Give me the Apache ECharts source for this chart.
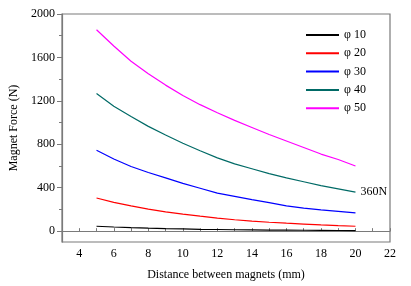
<!DOCTYPE html>
<html>
<head>
<meta charset="utf-8">
<script src="https://cdn.jsdelivr.net/npm/echarts@6/dist/echarts.min.js"></script>
<style>
  html, body { margin: 0; padding: 0; background: #fff; }
  #chart { width: 411px; height: 286px; }
</style>
</head>
<body>
<div id="chart"></div>
<script>
// distance between magnets (mm)
const distances = [5, 6, 7, 8, 9, 10, 11, 12, 13, 14, 15, 16, 17, 18, 19, 20];

// magnet force (N) for each diameter
const phi10 = [45, 38, 32, 27, 23, 20, 17, 15, 13, 11, 10, 9, 8, 7, 6, 5];
const phi20 = [305, 265, 232, 203, 178, 157, 138, 120, 105, 93, 82, 73, 65, 57, 50, 45];
const phi30 = [745, 665, 595, 540, 490, 440, 395, 350, 320, 290, 262, 232, 212, 195, 182, 168];
const phi40 = [1267, 1150, 1055, 965, 885, 810, 740, 675, 620, 575, 530, 490, 455, 420, 390, 360];
const phi50 = [1855, 1705, 1565, 1450, 1345, 1250, 1165, 1090, 1020, 955, 890, 830, 770, 710, 660, 600];

const seriesNames = ["φ 10", "φ 20", "φ 30", "φ 40", "φ 50"];
const seriesValues = [phi10, phi20, phi30, phi40, phi50];
const seriesColors = ["#000000", "#ff0000", "#0000ff", "#006a66", "#ff00ff"];

const xLabelValues = [4, 6, 8, 10, 12, 14, 16, 18, 20, 22];
const xTickValues = [4, 5, 6, 7, 8, 9, 10, 11, 12, 13, 14, 15, 16, 17, 18, 19, 20, 21, 22];
const yLabelValues = [0, 400, 800, 1200, 1600, 2000];
const yMinorValues = [200, 600, 1000, 1400, 1800];

const annotation = "360N";

const font = "Liberation Serif";
const axisColor = "#7a7a7a";

const chart = echarts.init(document.getElementById("chart"));

const series = seriesValues.map((vals, i) => ({
    name: seriesNames[i],
    type: "line",
    showSymbol: false,
    symbol: "none",
    color: seriesColors[i],
    lineStyle: { width: 1.2, color: seriesColors[i] },
    data: vals.map((v, j) => [distances[j], v]),
    // label the end of the φ 40 curve
    endLabel: i === 3 ? {
        show: true,
        distance: 5,
        formatter: annotation,
        fontFamily: font,
        fontSize: 12,
        color: "#000",
    } : { show: false },
    animation: false,
}));

const option = {
    animation: false,
    grid: {
        left: 59,
        right: 21,
        top: 14,
        bottom: 37,
        show: true,
        borderColor: axisColor,
        borderWidth: 1.2,
    },
    legend: {
        orient: "vertical",
        left: 301,
        top: 24,
        icon: "rect",
        itemWidth: 33,
        itemHeight: 2,
        itemGap: 6.3,
        data: seriesNames,
        textStyle: { fontFamily: font, fontSize: 12, color: "#000" },
    },
    xAxis: {
        type: "value",
        min: 3,
        max: 22,
        name: "Distance between magnets (mm)",
        nameLocation: "middle",
        nameGap: 27,
        nameTextStyle: { fontFamily: font, fontSize: 12, color: "#000" },
        axisLine: { show: true, lineStyle: { color: axisColor, width: 1.2 } },
        axisTick: {
            show: true,
            inside: true,
            length: 3,
            customValues: xTickValues,
            lineStyle: { color: axisColor },
        },
        axisLabel: {
            customValues: xLabelValues,
            margin: 6,
            fontFamily: font,
            fontSize: 12,
            color: "#000",
        },
        splitLine: { show: false },
    },
    yAxis: [
        {
            type: "value",
            min: -100,
            max: 2000,
            name: "Magnet Force (N)",
            nameLocation: "middle",
            nameGap: 42,
            nameTextStyle: { fontFamily: font, fontSize: 12, color: "#000" },
            axisLine: { show: true, lineStyle: { color: axisColor, width: 1.2 } },
            axisTick: {
                show: true,
                length: 5,
                customValues: yLabelValues,
                lineStyle: { color: axisColor },
            },
            axisLabel: {
                customValues: yLabelValues,
                formatter: (v) => String(v),
                margin: 7,
                fontFamily: font,
                fontSize: 12,
                color: "#000",
            },
            splitLine: { show: false },
        },
        {
            // minor ticks only
            type: "value",
            position: "left",
            offset: 0,
            min: -100,
            max: 2000,
            axisLine: { show: false },
            axisTick: {
                show: true,
                length: 3,
                customValues: yMinorValues,
                lineStyle: { color: axisColor },
            },
            axisLabel: { show: false },
            splitLine: { show: false },
        },
    ],
    series: series,
};

chart.setOption(option);
</script>
</body>
</html>
